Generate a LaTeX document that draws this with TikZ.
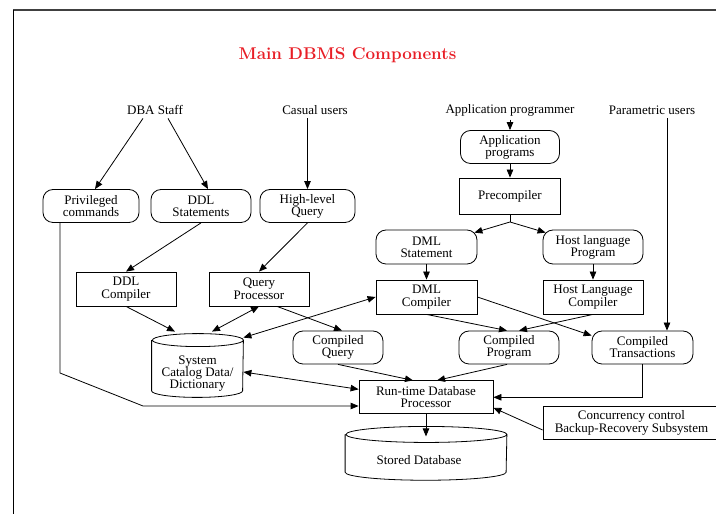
\documentclass[tikz,border=0pt]{standalone}
\usepackage{fontspec}
\newfontfamily\bodyfont{Liberation Serif}
\usetikzlibrary{arrows.meta}
\definecolor{titlered}{RGB}{232,30,38}

\begin{document}
\begin{tikzpicture}[
    x=1pt, y=1pt,
    line width=0.8pt,
    every node/.style={font=\bodyfont\fontsize{13}{12}\selectfont, align=center},
    roundbox/.style={rectangle, draw, rounded corners=10pt, minimum height=33pt, inner sep=2pt},
    squarebox/.style={rectangle, draw, minimum height=34pt, inner sep=2pt},
    tight/.style={font=\bodyfont\fontsize{13}{12.5}\selectfont},
    arrowline/.style={-{Triangle[length=8pt,width=6.5pt]}},
    bothline/.style={{Triangle[length=8pt,width=6.5pt]}-{Triangle[length=8pt,width=6.5pt]}}
]
\useasboundingbox (0,0) rectangle (716,514);

% Frame
\draw[line width=1.4pt, black!75] (13,504) -- (716,504);
\draw (13,0) -- (13,504);

% Title
\node[anchor=base, font=\fontsize{17}{20}\selectfont\bfseries, text=titlered] (title) at (347.5,454.5) {Main DBMS Components};

% Users
\node (dba)    at (155,404) {DBA Staff};
\node (casual) at (315,404) {Casual users};
\node (prog)   at (510,404) {Application programmer};
\node (param)  at (652,404) {Parametric users};

% First row
\node[roundbox, minimum width=96pt]  (priv) at (91,308)    {Privileged\\commands};
\node[roundbox, minimum width=100pt] (ddls) at (201,308)   {DDL\\Statements};
\node[roundbox, minimum width=95pt]  (hlq)  at (307.5,308) {High-level\\Query};
\node[roundbox, minimum width=99pt]  (apps) at (510,367)   {Application\\programs};
\node[squarebox, minimum width=101pt, minimum height=36pt] (prec) at (510,318) {Precompiler};
\coordinate (fork) at (510,292);
\node[roundbox, minimum width=101pt, minimum height=34pt] (dmls) at (426.5,267) {DML\\Statement};
\node[roundbox, minimum width=100pt, minimum height=34pt] (hlp)  at (593,267)   {Host language\\Program};

% Compilers
\node[squarebox, tight, minimum width=100pt] (ddlc) at (126,225)   {DDL\\Compiler};
\node[squarebox, tight, minimum width=100pt] (qp)   at (259,225)   {Query\\Processor};
\node[squarebox, tight, minimum width=101pt] (dmlc) at (426.5,217) {DML\\Compiler};
\node[squarebox, tight, minimum width=100pt] (hlc)  at (593,217)   {Host Language\\Compiler};

% Compiled code
\node[roundbox, minimum width=90pt]  (cq) at (338,166.5)   {Compiled\\Query};
\node[roundbox, minimum width=100pt] (cp) at (509,166.5)   {Compiled\\Program};
\node[roundbox, minimum width=101pt] (ct) at (642.5,166.5) {Compiled\\Transactions};

% System catalog
\node[minimum width=91pt, minimum height=63pt, inner sep=0pt] (cat) at (197.5,148.5) {};
\node (cattext) at (197.5,140) {System\\Catalog Data/\\Dictionary};
\draw ([yshift=-6.5pt]cat.north west) -- ([yshift=6.5pt]cat.south west)
    arc[start angle=180, end angle=360, x radius=45.5pt, y radius=6.5pt]
    -- ([yshift=-6.5pt]cat.north east)
    arc[start angle=0, end angle=360, x radius=45.5pt, y radius=6.5pt];

% Run-time processor
\node[squarebox, minimum width=134pt, minimum height=33pt] (rt) at (426,116.7) {Run-time Database\\Processor};
\node[squarebox, font=\bodyfont\fontsize{13}{13}\selectfont, minimum width=177pt, minimum height=33pt] (cc) at (631.5,91.5) {Concurrency control\\Backup-Recovery Subsystem};

% Stored database
\node[minimum width=161pt, minimum height=53pt, inner sep=0pt] (sdb) at (426,60.65) {};
\node (sdbtext) at (419,54) {Stored Database};
\draw ([yshift=-8pt]sdb.north west) -- ([yshift=8pt]sdb.south west)
    arc[start angle=180, end angle=360, x radius=80.5pt, y radius=8pt]
    -- ([yshift=-8pt]sdb.north east)
    arc[start angle=0, end angle=360, x radius=80.5pt, y radius=8pt];

% Connectors
\draw[arrowline] ([xshift=-12pt]dba.south) -- ([xshift=4pt]priv.north);
\draw[arrowline] ([xshift=13pt]dba.south) -- ([xshift=7pt]ddls.north);
\draw[arrowline] (casual.south -| hlq.north) -- (hlq.north);
\draw[arrowline] (prog.south) -- (apps.north);
\draw[arrowline] (apps.south) -- (prec.north);
\draw (prec.south) -- (fork);
\draw[arrowline] (fork) -- ([xshift=-3pt,yshift=-3pt]dmls.north east);
\draw[arrowline] (fork) -- ([xshift=3pt,yshift=-3pt]hlp.north west);
\draw[arrowline] (dmls.south) -- (dmlc.north);
\draw[arrowline] (hlp.south) -- (hlc.north);
\coordinate (paramfoot) at ([xshift=15pt]param.south);
\draw[arrowline] (paramfoot) -- (paramfoot |- ct.north);

\draw[arrowline] ([xshift=-31pt]priv.south) -- (60,141) -- (143,108) -- ([yshift=-8.7pt]rt.west);
\draw[arrowline] (ddls.south) -- (ddlc.north);
\draw[arrowline] (hlq.south) -- (qp.north);
\draw[arrowline] (ddlc.south) -- ([xshift=-22.5pt,yshift=2pt]cat.north);
\draw[bothline] (qp.south) -- ([xshift=14.5pt,yshift=2pt]cat.north);
\draw[arrowline] ([xshift=18pt]qp.south) -- ([xshift=4pt]cq.north);
\draw[bothline] (dmlc.west) -- ([yshift=-4pt]cat.north east);
\draw[arrowline] (dmlc.south) -- ([xshift=-2pt]cp.north);
\draw[arrowline] (hlc.south) -- ([xshift=10pt]cp.north);
\draw[arrowline] (dmlc.east) -- ([yshift=-5pt]ct.north west);

\draw[arrowline] (cq.south) -- ([xshift=-13pt]rt.north);
\draw[arrowline] ([xshift=-2pt]cp.south) -- ([xshift=11pt]rt.north);
\draw[bothline] ([yshift=-6.5pt]cat.east) -- ([yshift=8pt]rt.west);
\draw[arrowline] (ct.south) |- (rt.east);
\draw[arrowline] ([yshift=-7.5pt]cc.west) -- ([yshift=-10.5pt]rt.east);
\draw[arrowline] (rt.south) -- ([yshift=-10pt]sdb.north);

\end{tikzpicture}
\end{document}
